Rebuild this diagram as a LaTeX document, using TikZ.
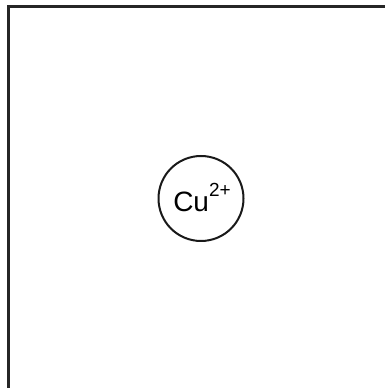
\documentclass[tikz,border=0pt]{standalone}
\usepackage{fontspec}
\setmainfont{Liberation Sans}
\begin{document}
\begin{tikzpicture}[x=1pt,y=1pt,
  frame/.style={line width=2.2pt,draw=black!85},
  ion/.style={circle,line width=2pt,draw=black!90,minimum size=85pt,inner sep=0pt}]
\useasboundingbox (0,0) rectangle (385,388);
\coordinate (tl) at (8.5,381.5);
\coordinate (tr) at (386,381.5);
\coordinate (bl) at (8.5,-1);
\draw[frame] (tr) -- (tl) -- (bl);
\node[ion] (cu) at (201,189.5) {};
\node[anchor=base,inner sep=0pt] (lbl) at (202,176) {\fontsize{28}{28}\selectfont Cu\raisebox{15pt}{\fontsize{19}{19}\selectfont 2+}};
\end{tikzpicture}
\end{document}
